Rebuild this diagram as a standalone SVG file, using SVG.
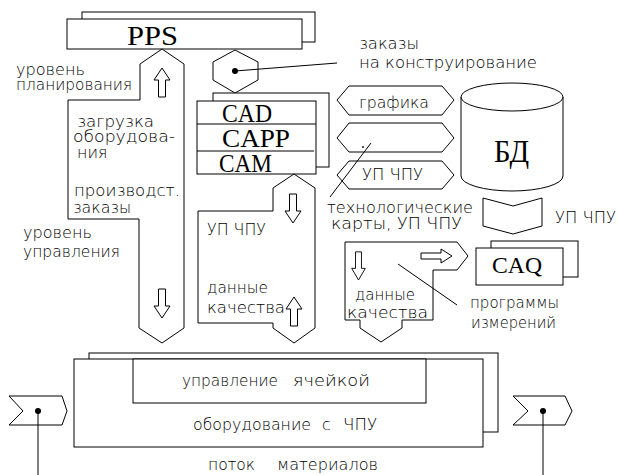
<svg xmlns="http://www.w3.org/2000/svg" width="618" height="475" viewBox="0 0 618 475">
<style>
.s{fill:#fff;stroke:#000;stroke-width:1}
.n{fill:none;stroke:#000;stroke-width:1}
.t{font-family:"DejaVu Sans","Liberation Sans",sans-serif;font-size:16px;font-weight:200;fill:#000}
.r{font-family:"Liberation Serif","Times New Roman",serif;fill:#000}
</style>
<defs>
<path id="up" d="M0,0 L8,12 L3.5,12 L3.5,29 L-3.5,29 L-3.5,12 L-8,12 Z" fill="#fff" stroke="#000" stroke-width="1"/>
</defs>
<rect width="618" height="475" fill="#fff"/>

<g id="pps">
<rect class="s" x="82" y="12" width="233" height="30"/>
<rect class="s" x="67" y="19" width="235" height="30"/>
<text class="r" x="127" y="45" font-size="28" textLength="51" lengthAdjust="spacingAndGlyphs">PPS</text>
</g>

<g id="flow-left">
<polygon class="s" points="162,49 140,64 140,100 68,100 68,219 139,219 139,328 162,343 184,328 184,64"/>
<use href="#up" x="162" y="68"/>
<use href="#up" transform="translate(162,318) rotate(180)"/>
<text class="t" x="77" y="127" textLength="77" lengthAdjust="spacingAndGlyphs">загрузка</text>
<text class="t" x="73" y="142" textLength="102" lengthAdjust="spacingAndGlyphs">оборудова-</text>
<text class="t" x="77" y="158">ния</text>
<text class="t" x="74" y="196" textLength="106" lengthAdjust="spacingAndGlyphs">производст.</text>
<text class="t" x="73" y="213" textLength="58" lengthAdjust="spacingAndGlyphs">заказы</text>
</g>

<g id="labels-left">
<text class="t" x="16" y="75" textLength="69" lengthAdjust="spacingAndGlyphs">уровень</text>
<text class="t" x="16" y="90" textLength="116" lengthAdjust="spacingAndGlyphs">планирования</text>
<text class="t" x="23" y="238" textLength="69" lengthAdjust="spacingAndGlyphs">уровень</text>
<text class="t" x="23" y="257" textLength="97" lengthAdjust="spacingAndGlyphs">управления</text>
</g>

<g id="order-hex">
<polygon class="s" points="235,50 258,62 258,80 235,93 213,80 213,62"/>
<text class="t" x="359" y="49" textLength="60" lengthAdjust="spacingAndGlyphs">заказы</text>
<text class="t" x="359" y="68" textLength="178" lengthAdjust="spacingAndGlyphs">на конструирование</text>
</g>

<g id="cad-block">
<rect class="s" x="213" y="93" width="116" height="74"/>
<rect class="s" x="197" y="101" width="119" height="73"/>
<line class="n" x1="197" y1="124" x2="316" y2="124"/>
<line class="n" x1="197" y1="151" x2="314" y2="151" stroke="#555"/>
<text class="r" x="222" y="122" font-size="25" textLength="50" lengthAdjust="spacingAndGlyphs">CAD</text>
<text class="r" x="222" y="147" font-size="25" textLength="68" lengthAdjust="spacingAndGlyphs">CAPP</text>
<text class="r" x="219" y="172" font-size="25" textLength="53" lengthAdjust="spacingAndGlyphs">CAM</text>
</g>

<g id="flow-mid">
<polygon class="s" points="294,174 273,188 273,211 198,211 198,323 273,323 273,328 294,343 315,328 315,188"/>
<use href="#up" transform="translate(293,223) rotate(180)"/>
<use href="#up" x="294" y="297"/>
<text class="t" x="207" y="235" textLength="59" lengthAdjust="spacingAndGlyphs">УП ЧПУ</text>
<text class="t" x="207" y="293" textLength="61" lengthAdjust="spacingAndGlyphs">данные</text>
<text class="t" x="207" y="313" textLength="78" lengthAdjust="spacingAndGlyphs">качества</text>
</g>

<g id="hex-grafika">
<polygon class="s" points="337,100 349,86 442,86 454,100 442,115 349,115"/>
<text class="t" x="359" y="108" textLength="70" lengthAdjust="spacingAndGlyphs">графика</text>
</g>
<g id="hex-blank">
<polygon class="s" points="337,138 349,123 442,123 454,138 442,152 349,152"/>
</g>
<g id="hex-up">
<polygon class="s" points="337,175 349,161 442,161 454,175 442,189 349,189"/>
<text class="t" x="362" y="180" textLength="61" lengthAdjust="spacingAndGlyphs">УП ЧПУ</text>
</g>
<text class="t" x="327" y="213" textLength="146" lengthAdjust="spacingAndGlyphs">технологические</text>
<text class="t" x="331" y="229" textLength="131" lengthAdjust="spacingAndGlyphs">карты, УП ЧПУ</text>

<g id="bd">
<path class="s" d="M461,97 L461,176 A51,15 0 0 0 563,176 L563,97"/>
<ellipse class="s" cx="512" cy="97" rx="51" ry="14"/>
<text class="r" x="494" y="162" font-size="32" textLength="35" lengthAdjust="spacingAndGlyphs">БД</text>
</g>

<g id="chevron-down">
<polygon class="s" points="483,198 513,206 542,198 542,226 513,234 483,226"/>
<text class="t" x="555" y="223" textLength="61" lengthAdjust="spacingAndGlyphs">УП ЧПУ</text>
</g>

<g id="caq">
<rect class="s" x="491" y="241" width="87" height="36"/>
<rect class="s" x="476" y="248" width="87" height="37"/>
<text class="r" x="492" y="273" font-size="24" textLength="50" lengthAdjust="spacingAndGlyphs">CAQ</text>
</g>

<g id="flow-right">
<polygon class="s" points="345,242 457,242 468,256 457,270 433,270 433,320 402,320 402,328 381,342 360,328 360,320 345,320"/>
<use href="#up" transform="translate(358.5,280) rotate(180) scale(0.85,0.97)"/>
<path d="M452,256 L441,249 L441,253 L421,253 L421,259 L441,259 L441,263 Z" fill="#fff" stroke="#000" stroke-width="1"/>
<text class="t" x="355" y="300" textLength="60" lengthAdjust="spacingAndGlyphs">данные</text>
<text class="t" x="347" y="318" textLength="81" lengthAdjust="spacingAndGlyphs">качества</text>
</g>
<text class="t" x="470" y="308" textLength="89" lengthAdjust="spacingAndGlyphs">программы</text>
<text class="t" x="471" y="328" textLength="85" lengthAdjust="spacingAndGlyphs">измерений</text>

<g id="cell-block">
<rect class="s" x="89" y="353" width="409" height="79"/>
<rect class="s" x="74" y="359" width="409" height="88"/>
<rect class="s" x="133" y="359" width="293" height="44"/>
<text class="t" y="386"><tspan x="182" textLength="96" lengthAdjust="spacingAndGlyphs">управление</tspan> <tspan x="293" textLength="77" lengthAdjust="spacingAndGlyphs">ячейкой</tspan></text>
<text class="t" y="430"><tspan x="193" textLength="118" lengthAdjust="spacingAndGlyphs">оборудование</tspan> <tspan x="322">с</tspan> <tspan x="343" textLength="34" lengthAdjust="spacingAndGlyphs">ЧПУ</tspan></text>
</g>
<text class="t" y="470"><tspan x="208" textLength="47" lengthAdjust="spacingAndGlyphs">поток</tspan> <tspan x="277" textLength="101" lengthAdjust="spacingAndGlyphs">материалов</tspan></text>

<g id="chevron-in">
<polygon class="s" points="9,396 62,396 67,411 62,425 9,425 23,411"/>
</g>
<g id="chevron-out">
<polygon class="s" points="513,396 565,396 572,411 565,425 513,425 528,411"/>
</g>

<g id="connectors">
<line class="n" x1="235" y1="71" x2="337" y2="63"/>
<circle cx="235" cy="71" r="3"/>
<line class="n" x1="371" y1="143" x2="330" y2="197"/>
<circle cx="363" cy="147" r="0.9"/>
<line class="n" x1="398" y1="264" x2="457" y2="305"/>
<line class="n" x1="38" y1="411" x2="38" y2="475"/>
<circle cx="38" cy="411" r="3"/>
<line class="n" x1="543" y1="411" x2="543" y2="475"/>
<circle cx="543" cy="411" r="3"/>
</g>
</svg>
